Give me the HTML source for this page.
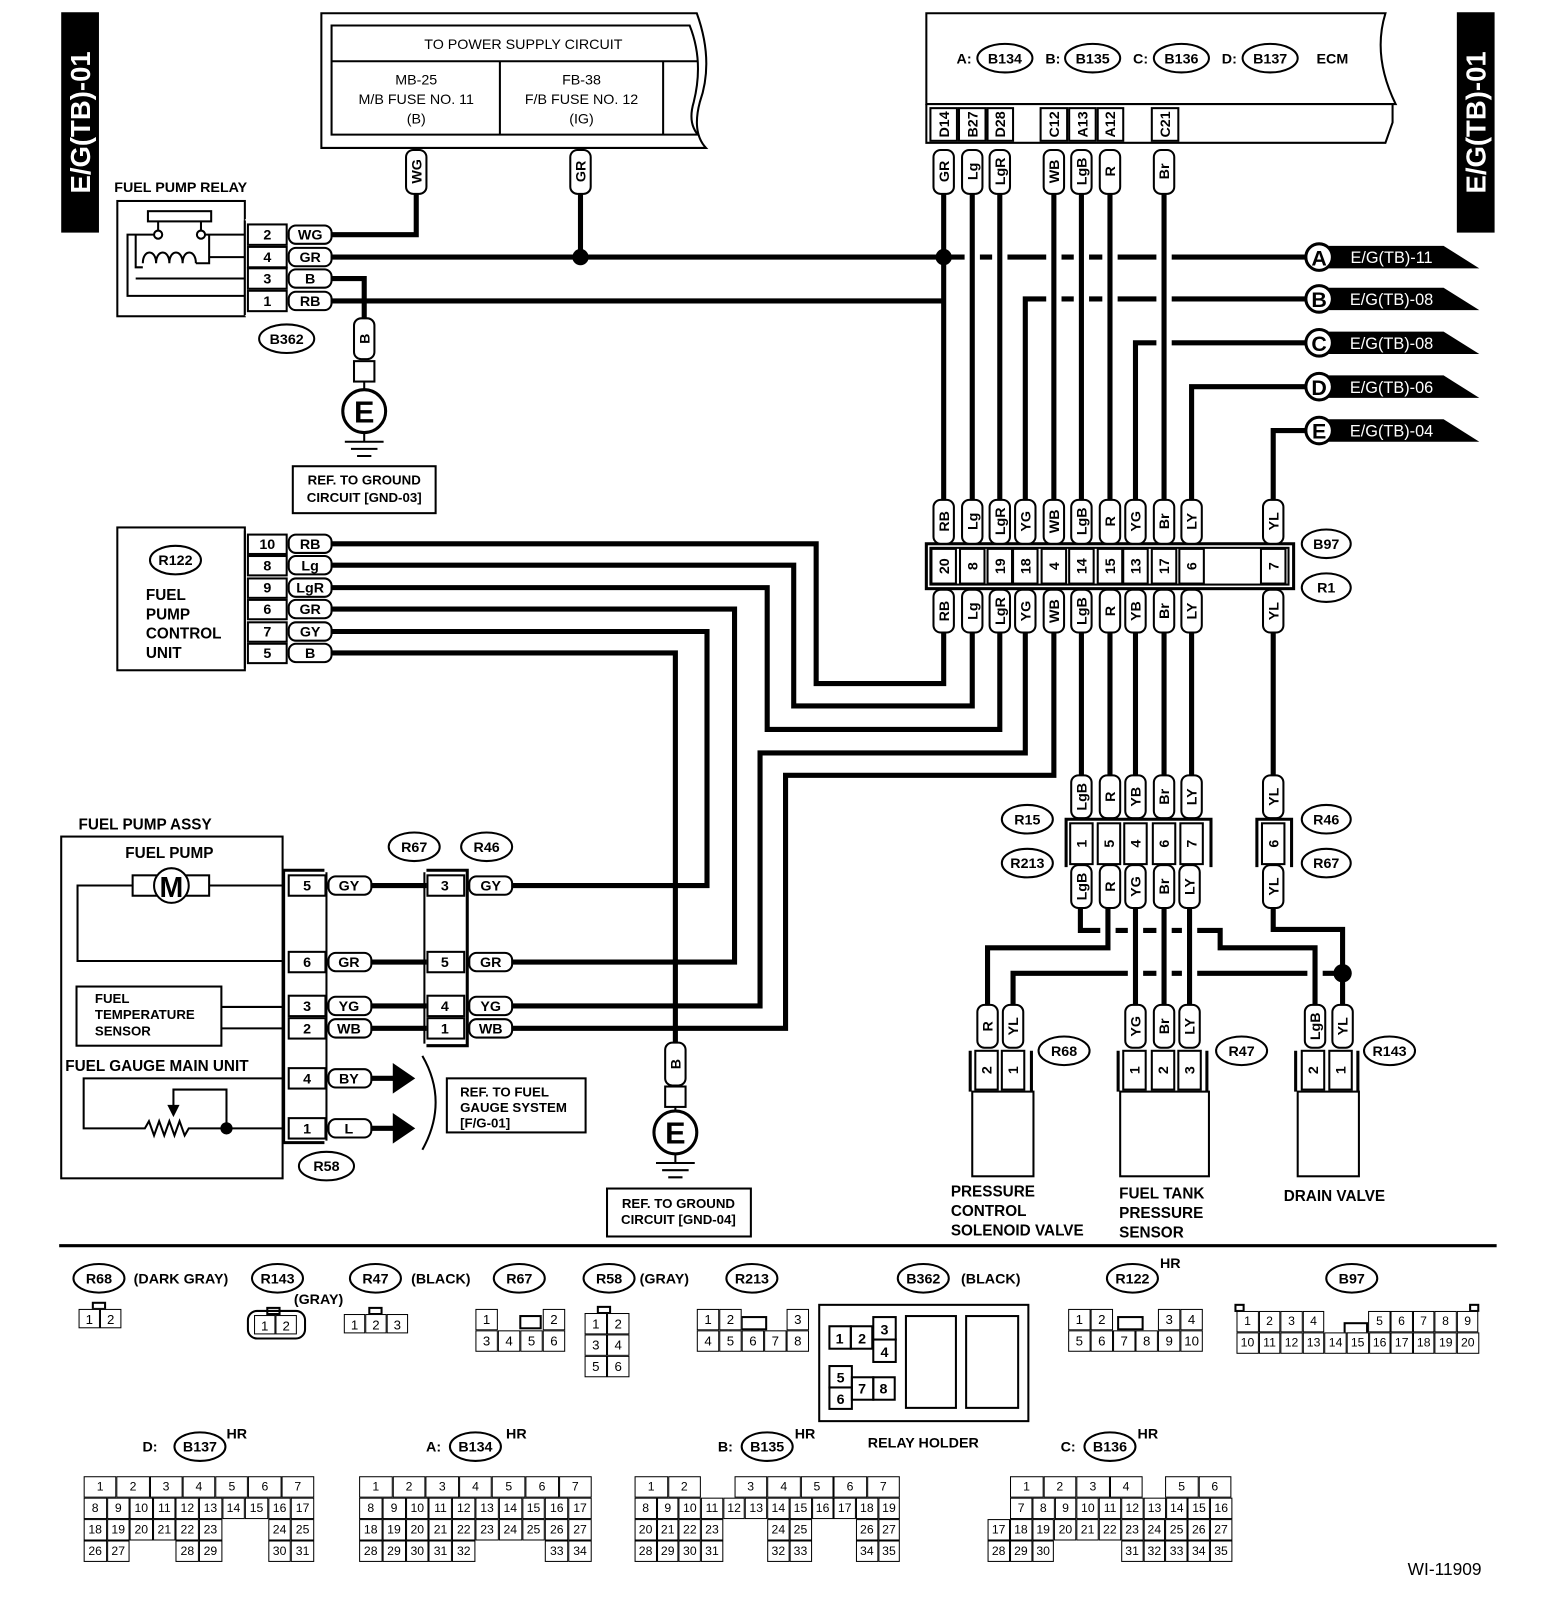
<!DOCTYPE html>
<html><head><meta charset="utf-8">
<style>
html,body{margin:0;padding:0;background:#fff;}
body{width:1568px;height:1598px;overflow:hidden;position:relative;}
#c{position:absolute;left:0;top:0;width:1537px;height:1567px;transform:scale(1.0202);transform-origin:0 0;}
svg{position:absolute;left:0;top:0;}
svg text{font-family:"Liberation Sans",sans-serif;font-weight:bold;font-size:14px;text-anchor:middle;fill:#000;}
.w{fill:none;stroke:#000;stroke-width:5;stroke-linejoin:miter;}
.u{fill:none;stroke:#fff;stroke-width:15;}
.t{fill:#fff;stroke:#000;stroke-width:2;}
.n{fill:none;stroke:#000;stroke-width:2;}
.g{position:absolute;font-family:"Liberation Sans",sans-serif;font-size:13px;}
.r{display:flex;height:21px;}
.r div{box-sizing:border-box;border:1px solid #000;text-align:center;line-height:19px;background:#fff;}
.r div.e{border-color:transparent;background:transparent;}
</style></head><body><div id="c">
<svg width="1537" height="1567" viewBox="0 0 1537 1567">
<!-- side tabs -->
<rect x="60" y="12" width="37" height="216" fill="#000"/>
<text transform="translate(88,120) rotate(-90)" style="fill:#fff;font-size:27px">E/G(TB)-01</text>
<rect x="1428" y="12" width="37" height="216" fill="#000"/>
<text transform="translate(1456,120) rotate(-90)" style="fill:#fff;font-size:27px">E/G(TB)-01</text>

<!-- power supply -->
<path class="n" d="M315,145 V13 H683 Q700,60 686,100 Q678,130 692,145 Z"/>
<path class="n" d="M325,132 V25 H676 Q690,60 680,100 Q674,120 684,132 Z"/>
<line class="n" x1="325" y1="60" x2="684" y2="60"/>
<line class="n" x1="490" y1="60" x2="490" y2="132"/>
<line class="n" x1="650" y1="60" x2="650" y2="132"/>
<text x="513" y="48" style="font-weight:normal">TO POWER SUPPLY CIRCUIT</text>
<text x="408" y="83" style="font-weight:normal">MB-25</text>
<text x="408" y="102" style="font-weight:normal">M/B FUSE NO. 11</text>
<text x="408" y="121" style="font-weight:normal">(B)</text>
<text x="570" y="83" style="font-weight:normal">FB-38</text>
<text x="570" y="102" style="font-weight:normal">F/B FUSE NO. 12</text>
<text x="570" y="121" style="font-weight:normal">(IG)</text>

<!-- ECM -->
<path class="n" d="M908,102 V13 H1358 Q1345,55 1368,102 Z"/>
<path class="n" d="M908,102 V140 H1358 L1365,120 V102"/>
<text x="945" y="62">A:</text><ellipse cx="985" cy="57" rx="27" ry="14" class="n"/><text x="985" y="62">B134</text>
<text x="1032" y="62">B:</text><ellipse cx="1071" cy="57" rx="27" ry="14" class="n"/><text x="1071" y="62">B135</text>
<text x="1118" y="62">C:</text><ellipse cx="1158" cy="57" rx="27" ry="14" class="n"/><text x="1158" y="62">B136</text>
<text x="1205" y="62">D:</text><ellipse cx="1245" cy="57" rx="27" ry="14" class="n"/><text x="1245" y="62">B137</text>
<text x="1306" y="62">ECM</text>
<g class="n">
<rect x="912" y="106" width="26" height="32"/><rect x="940" y="106" width="26" height="32"/><rect x="968" y="106" width="25" height="32"/>
<rect x="1020" y="106" width="26" height="32"/><rect x="1048" y="106" width="26" height="32"/><rect x="1076" y="106" width="25" height="32"/>
<rect x="1129" y="106" width="26" height="32"/></g>
<text transform="translate(930,122) rotate(-90)">D14</text>
<text transform="translate(958,122) rotate(-90)">B27</text>
<text transform="translate(985,122) rotate(-90)">D28</text>
<text transform="translate(1038,122) rotate(-90)">C12</text>
<text transform="translate(1066,122) rotate(-90)">A13</text>
<text transform="translate(1093,122) rotate(-90)">A12</text>
<text transform="translate(1147,122) rotate(-90)">C21</text>

<!-- main horizontal wires -->
<path class="w" d="M408,190 V230 H325"/>
<path class="w" d="M569,190 V252"/>
<path class="w" d="M325,252 H1280"/>
<path class="w" d="M325,273 H357 V312"/>
<path class="w" d="M325,295 H925"/>
<path class="w" d="M925,190 V490"/>
<path class="w" d="M1280,293 H1005 V490"/>
<path class="w" d="M1280,336 H1113 V490"/>
<path class="w" d="M1280,379 H1168 V490"/>
<path class="w" d="M1280,422 H1248 V490"/>
<g>
<path class="u" d="M953,192 V488 M980,192 V488 M1033,192 V488 M1060,192 V488 M1088,192 V488 M1141,192 V488"/>
<path class="w" d="M953,190 V490 M980,190 V490 M1033,190 V490 M1060,190 V490 M1088,190 V490 M1141,190 V490"/>
</g>
<circle cx="569" cy="252" r="8"/><circle cx="925" cy="252" r="8"/>

<!-- off-page flags -->
<g>
<polygon points="1300,241 1415,241 1450,263 1300,263"/><circle cx="1293" cy="252" r="13" class="t" style="stroke-width:3"/><text x="1293" y="260" style="font-size:21px">A</text><text x="1364" y="258" style="fill:#fff;font-size:16px;font-weight:normal">E/G(TB)-11</text>
<polygon points="1300,282 1415,282 1450,304 1300,304"/><circle cx="1293" cy="293" r="13" class="t" style="stroke-width:3"/><text x="1293" y="301" style="font-size:21px">B</text><text x="1364" y="299" style="fill:#fff;font-size:16px;font-weight:normal">E/G(TB)-08</text>
<polygon points="1300,325 1415,325 1450,347 1300,347"/><circle cx="1293" cy="336" r="13" class="t" style="stroke-width:3"/><text x="1293" y="344" style="font-size:21px">C</text><text x="1364" y="342" style="fill:#fff;font-size:16px;font-weight:normal">E/G(TB)-08</text>
<polygon points="1300,368 1415,368 1450,390 1300,390"/><circle cx="1293" cy="379" r="13" class="t" style="stroke-width:3"/><text x="1293" y="387" style="font-size:21px">D</text><text x="1364" y="385" style="fill:#fff;font-size:16px;font-weight:normal">E/G(TB)-06</text>
<polygon points="1300,411 1415,411 1450,433 1300,433"/><circle cx="1293" cy="422" r="13" class="t" style="stroke-width:3"/><text x="1293" y="430" style="font-size:21px">E</text><text x="1364" y="428" style="fill:#fff;font-size:16px;font-weight:normal">E/G(TB)-04</text>
</g>

<!-- relay -->
<text x="112" y="188" style="text-anchor:start">FUEL PUMP RELAY</text>
<rect x="115" y="197" width="125" height="113" class="n"/>
<rect x="145" y="207" width="62" height="10" class="n"/>
<path class="n" d="M155,217 V226 M197,217 V226"/>
<circle cx="155" cy="230" r="4" class="n"/><circle cx="197" cy="230" r="4" class="n"/>
<path class="n" d="M151,230 H125 V290 H240 M201,230 H240"/>
<path class="n" d="M133,230 V262 H140 M140,258 c0,-14 13,-14 13,0 c0,-14 13,-14 13,0 c0,-14 13,-14 13,0 c0,-14 13,-14 13,0 M192,258 H205 V230"/>
<path class="n" d="M205,252 H240 M133,273 H240"/>
<rect x="240" y="215" width="5" height="95" fill="#fff"/>
<g class="n"><rect x="243" y="220" width="38" height="20"/><rect x="243" y="242" width="38" height="20"/><rect x="243" y="263" width="38" height="20"/><rect x="243" y="285" width="38" height="20"/></g>
<line class="n" x1="240" y1="216" x2="240" y2="309"/>
<text x="262" y="235">2</text><text x="262" y="257">4</text><text x="262" y="278">3</text><text x="262" y="300">1</text>
<g class="t"><rect x="283" y="221" width="42" height="18" rx="7"/><rect x="283" y="243" width="42" height="18" rx="7"/><rect x="283" y="264" width="42" height="18" rx="7"/><rect x="283" y="286" width="42" height="18" rx="7"/></g>
<text x="304" y="235">WG</text><text x="304" y="257">GR</text><text x="304" y="278">B</text><text x="304" y="300">RB</text>
<ellipse cx="281" cy="332" rx="27" ry="14" class="n"/><text x="281" y="337">B362</text>

<!-- ground 1 -->
<rect x="347" y="312" width="20" height="40" rx="7" class="t"/><text transform="translate(362,332) rotate(-90)">B</text>
<rect x="347" y="354" width="20" height="20" class="n"/>
<line x1="357" y1="374" x2="357" y2="382" class="n"/>
<circle cx="357" cy="403" r="21" class="n" style="stroke-width:3"/><text x="357" y="414" style="font-size:30px">E</text>
<path class="n" d="M357,424 V433 M338,433 H376 M344,440 H370 M350,447 H364"/>
<rect x="287" y="457" width="140" height="46" class="n"/>
<text x="357" y="475" style="font-size:13px">REF. TO GROUND</text><text x="357" y="492" style="font-size:13px">CIRCUIT [GND-03]</text>

<!-- R122 -->
<rect x="115" y="517" width="125" height="140" class="n"/>
<ellipse cx="172" cy="549" rx="25" ry="14" class="n"/><text x="172" y="554">R122</text>
<text x="143" y="588" style="text-anchor:start;font-size:15px">FUEL</text>
<text x="143" y="607" style="text-anchor:start;font-size:15px">PUMP</text>
<text x="143" y="626" style="text-anchor:start;font-size:15px">CONTROL</text>
<text x="143" y="645" style="text-anchor:start;font-size:15px">UNIT</text>
<line class="n" x1="240" y1="520" x2="240" y2="655"/>
<g class="n"><rect x="243" y="524" width="38" height="19"/><rect x="243" y="545" width="38" height="19"/><rect x="243" y="567" width="38" height="19"/><rect x="243" y="588" width="38" height="19"/><rect x="243" y="610" width="38" height="19"/><rect x="243" y="631" width="38" height="19"/></g>
<text x="262" y="538">10</text><text x="262" y="559">8</text><text x="262" y="581">9</text><text x="262" y="602">6</text><text x="262" y="624">7</text><text x="262" y="645">5</text>

<!-- lower wiring -->
<path class="w" d="M325,533 H800 V670 H925 V620"/>
<path class="w" d="M325,554 H778 V692 H953 V620"/>
<path class="w" d="M325,576 H752 V715 H980 V620"/>
<path class="w" d="M325,597 H720 V943 H502"/>
<path class="w" d="M325,619 H693 V868 H502"/>
<path class="w" d="M325,640 H662 V1022"/>
<path class="w" d="M1005,620 V738 H745 V986 H502"/>
<path class="w" d="M1033,620 V760 H770 V1008 H502"/>
<path class="w" d="M1060,620 V760 M1088,620 V760 M1113,620 V760 M1141,620 V760 M1168,620 V760 M1248,620 V760"/>

<g class="t"><rect x="283" y="524" width="42" height="18" rx="7"/><rect x="283" y="545" width="42" height="18" rx="7"/><rect x="283" y="567" width="42" height="18" rx="7"/><rect x="283" y="588" width="42" height="18" rx="7"/><rect x="283" y="610" width="42" height="18" rx="7"/><rect x="283" y="631" width="42" height="18" rx="7"/></g>
<text x="304" y="538">RB</text><text x="304" y="559">Lg</text><text x="304" y="581">LgR</text><text x="304" y="602">GR</text><text x="304" y="624">GY</text><text x="304" y="645">B</text>

<!-- B97 -->
<rect x="908" y="533" width="360" height="44" class="n" style="stroke-width:3"/>
<rect x="912" y="537" width="351" height="36" fill="#fff" class="n"/>
<g class="n">
<rect x="913" y="538" width="24" height="34"/><rect x="941" y="538" width="24" height="34"/><rect x="968" y="538" width="24" height="34"/><rect x="993" y="538" width="24" height="34"/><rect x="1021" y="538" width="24" height="34"/><rect x="1048" y="538" width="24" height="34"/><rect x="1076" y="538" width="24" height="34"/><rect x="1101" y="538" width="24" height="34"/><rect x="1129" y="538" width="24" height="34"/><rect x="1156" y="538" width="24" height="34"/><rect x="1236" y="538" width="24" height="34"/></g>
<text transform="translate(930,555) rotate(-90)">20</text><text transform="translate(958,555) rotate(-90)">8</text><text transform="translate(985,555) rotate(-90)">19</text><text transform="translate(1010,555) rotate(-90)">18</text><text transform="translate(1038,555) rotate(-90)">4</text><text transform="translate(1065,555) rotate(-90)">14</text><text transform="translate(1093,555) rotate(-90)">15</text><text transform="translate(1118,555) rotate(-90)">13</text><text transform="translate(1146,555) rotate(-90)">17</text><text transform="translate(1173,555) rotate(-90)">6</text><text transform="translate(1253,555) rotate(-90)">7</text>
<ellipse cx="1300" cy="533" rx="24" ry="14" class="n"/><text x="1300" y="538">B97</text>
<ellipse cx="1300" cy="576" rx="24" ry="14" class="n"/><text x="1300" y="581">R1</text>

<!-- vertical pills: ECM -->
<g class="t">
<rect x="915" y="147" width="20" height="43" rx="7"/><rect x="943" y="147" width="20" height="43" rx="7"/><rect x="970" y="147" width="20" height="43" rx="7"/><rect x="1023" y="147" width="20" height="43" rx="7"/><rect x="1050" y="147" width="20" height="43" rx="7"/><rect x="1078" y="147" width="20" height="43" rx="7"/><rect x="1131" y="147" width="20" height="43" rx="7"/>
<rect x="398" y="147" width="20" height="43" rx="7"/><rect x="559" y="147" width="20" height="43" rx="7"/>
</g>
<g style="font-size:13px">
<text transform="translate(930,168) rotate(-90)">GR</text><text transform="translate(958,168) rotate(-90)">Lg</text><text transform="translate(985,168) rotate(-90)">LgR</text><text transform="translate(1038,168) rotate(-90)">WB</text><text transform="translate(1065,168) rotate(-90)">LgB</text><text transform="translate(1093,168) rotate(-90)">R</text><text transform="translate(1146,168) rotate(-90)">Br</text>
<text transform="translate(413,168) rotate(-90)">WG</text><text transform="translate(574,168) rotate(-90)">GR</text>
</g>
<!-- B97 pills -->
<g class="t">
<rect x="915" y="490" width="20" height="43" rx="7"/><rect x="943" y="490" width="20" height="43" rx="7"/><rect x="970" y="490" width="20" height="43" rx="7"/><rect x="995" y="490" width="20" height="43" rx="7"/><rect x="1023" y="490" width="20" height="43" rx="7"/><rect x="1050" y="490" width="20" height="43" rx="7"/><rect x="1078" y="490" width="20" height="43" rx="7"/><rect x="1103" y="490" width="20" height="43" rx="7"/><rect x="1131" y="490" width="20" height="43" rx="7"/><rect x="1158" y="490" width="20" height="43" rx="7"/><rect x="1238" y="490" width="20" height="43" rx="7"/>
<rect x="915" y="578" width="20" height="42" rx="7"/><rect x="943" y="578" width="20" height="42" rx="7"/><rect x="970" y="578" width="20" height="42" rx="7"/><rect x="995" y="578" width="20" height="42" rx="7"/><rect x="1023" y="578" width="20" height="42" rx="7"/><rect x="1050" y="578" width="20" height="42" rx="7"/><rect x="1078" y="578" width="20" height="42" rx="7"/><rect x="1103" y="578" width="20" height="42" rx="7"/><rect x="1131" y="578" width="20" height="42" rx="7"/><rect x="1158" y="578" width="20" height="42" rx="7"/><rect x="1238" y="578" width="20" height="42" rx="7"/>
</g>
<g style="font-size:13px">
<text transform="translate(930,511) rotate(-90)">RB</text><text transform="translate(958,511) rotate(-90)">Lg</text><text transform="translate(985,511) rotate(-90)">LgR</text><text transform="translate(1010,511) rotate(-90)">YG</text><text transform="translate(1038,511) rotate(-90)">WB</text><text transform="translate(1065,511) rotate(-90)">LgB</text><text transform="translate(1093,511) rotate(-90)">R</text><text transform="translate(1118,511) rotate(-90)">YG</text><text transform="translate(1146,511) rotate(-90)">Br</text><text transform="translate(1173,511) rotate(-90)">LY</text><text transform="translate(1253,511) rotate(-90)">YL</text>
<text transform="translate(930,599) rotate(-90)">RB</text><text transform="translate(958,599) rotate(-90)">Lg</text><text transform="translate(985,599) rotate(-90)">LgR</text><text transform="translate(1010,599) rotate(-90)">YG</text><text transform="translate(1038,599) rotate(-90)">WB</text><text transform="translate(1065,599) rotate(-90)">LgB</text><text transform="translate(1093,599) rotate(-90)">R</text><text transform="translate(1118,599) rotate(-90)">YB</text><text transform="translate(1146,599) rotate(-90)">Br</text><text transform="translate(1173,599) rotate(-90)">LY</text><text transform="translate(1253,599) rotate(-90)">YL</text>
</g>

<!-- R15 / R46 -->
<path class="n" d="M1045,850 V803 H1187 V850" style="stroke-width:3"/>
<g class="n"><rect x="1049" y="807" width="22" height="40"/><rect x="1076" y="807" width="22" height="40"/><rect x="1102" y="807" width="22" height="40"/><rect x="1130" y="807" width="22" height="40"/><rect x="1157" y="807" width="22" height="40"/></g>
<text transform="translate(1065,827) rotate(-90)">1</text><text transform="translate(1092,827) rotate(-90)">5</text><text transform="translate(1118,827) rotate(-90)">4</text><text transform="translate(1146,827) rotate(-90)">6</text><text transform="translate(1173,827) rotate(-90)">7</text>
<path class="n" d="M1232,850 V803 H1266 V850" style="stroke-width:3"/>
<rect x="1237" y="807" width="22" height="40" class="n"/><text transform="translate(1253,827) rotate(-90)">6</text>
<ellipse cx="1007" cy="803" rx="25" ry="14" class="n"/><text x="1007" y="808">R15</text>
<ellipse cx="1007" cy="846" rx="25" ry="14" class="n"/><text x="1007" y="851">R213</text>
<ellipse cx="1300" cy="803" rx="24" ry="14" class="n"/><text x="1300" y="808">R46</text>
<ellipse cx="1300" cy="846" rx="24" ry="14" class="n"/><text x="1300" y="851">R67</text>

<!-- wiring to loads -->
<path class="w" d="M1248,890 V911 H1316 V985"/>
<path class="w" d="M1316,954 H993 V985"/>
<circle cx="1316" cy="954" r="9"/>
<path class="u" d="M1196,912 V929 H1289 V983"/>
<path class="w" d="M1059,890 V912 H1196 V929 H1289 V985"/>
<path class="u" d="M1086,892 V929 H968 V983"/>
<path class="w" d="M1086,890 V929 H968 V985"/>
<path class="u" d="M1113,892 V983 M1141,892 V983 M1166,892 V983"/>
<path class="w" d="M1113,890 V985 M1141,890 V985 M1166,890 V985"/>

<g class="t">
<rect x="1050" y="760" width="20" height="42" rx="7"/><rect x="1078" y="760" width="20" height="42" rx="7"/><rect x="1103" y="760" width="20" height="42" rx="7"/><rect x="1131" y="760" width="20" height="42" rx="7"/><rect x="1158" y="760" width="20" height="42" rx="7"/><rect x="1238" y="760" width="20" height="42" rx="7"/>
<rect x="1050" y="848" width="20" height="42" rx="7"/><rect x="1078" y="848" width="20" height="42" rx="7"/><rect x="1103" y="848" width="20" height="42" rx="7"/><rect x="1131" y="848" width="20" height="42" rx="7"/><rect x="1156" y="848" width="20" height="42" rx="7"/><rect x="1238" y="848" width="20" height="42" rx="7"/>
<rect x="958" y="985" width="20" height="42" rx="7"/><rect x="983" y="985" width="20" height="42" rx="7"/>
<rect x="1103" y="985" width="20" height="42" rx="7"/><rect x="1131" y="985" width="20" height="42" rx="7"/><rect x="1156" y="985" width="20" height="42" rx="7"/>
<rect x="1279" y="985" width="20" height="42" rx="7"/><rect x="1306" y="985" width="20" height="42" rx="7"/>
</g>
<g style="font-size:13px">
<text transform="translate(1065,781) rotate(-90)">LgB</text><text transform="translate(1093,781) rotate(-90)">R</text><text transform="translate(1118,781) rotate(-90)">YB</text><text transform="translate(1146,781) rotate(-90)">Br</text><text transform="translate(1173,781) rotate(-90)">LY</text><text transform="translate(1253,781) rotate(-90)">YL</text>
<text transform="translate(1065,869) rotate(-90)">LgB</text><text transform="translate(1093,869) rotate(-90)">R</text><text transform="translate(1118,869) rotate(-90)">YG</text><text transform="translate(1146,869) rotate(-90)">Br</text><text transform="translate(1171,869) rotate(-90)">LY</text><text transform="translate(1253,869) rotate(-90)">YL</text>
<text transform="translate(973,1006) rotate(-90)">R</text><text transform="translate(998,1006) rotate(-90)">YL</text>
<text transform="translate(1118,1006) rotate(-90)">YG</text><text transform="translate(1146,1006) rotate(-90)">Br</text><text transform="translate(1171,1006) rotate(-90)">LY</text>
<text transform="translate(1294,1006) rotate(-90)">LgB</text><text transform="translate(1321,1006) rotate(-90)">YL</text>
</g>

<!-- loads -->
<path class="n" d="M951,1030 V1070 M1011,1030 V1070" style="stroke-width:3"/>
<g class="n"><rect x="956" y="1030" width="22" height="38"/><rect x="982" y="1030" width="22" height="38"/><rect x="953" y="1070" width="60" height="83"/></g>
<text transform="translate(972,1049) rotate(-90)">2</text><text transform="translate(998,1049) rotate(-90)">1</text>
<ellipse cx="1043" cy="1030" rx="25" ry="14" class="n"/><text x="1043" y="1035">R68</text>
<text x="932" y="1173" style="text-anchor:start;font-size:15px">PRESSURE</text>
<text x="932" y="1192" style="text-anchor:start;font-size:15px">CONTROL</text>
<text x="932" y="1211" style="text-anchor:start;font-size:15px">SOLENOID VALVE</text>

<path class="n" d="M1096,1030 V1070 M1183,1030 V1070" style="stroke-width:3"/>
<g class="n"><rect x="1101" y="1030" width="22" height="38"/><rect x="1129" y="1030" width="22" height="38"/><rect x="1155" y="1030" width="22" height="38"/><rect x="1098" y="1070" width="87" height="83"/></g>
<text transform="translate(1117,1049) rotate(-90)">1</text><text transform="translate(1145,1049) rotate(-90)">2</text><text transform="translate(1171,1049) rotate(-90)">3</text>
<ellipse cx="1217" cy="1030" rx="25" ry="14" class="n"/><text x="1217" y="1035">R47</text>
<text x="1097" y="1175" style="text-anchor:start;font-size:15px">FUEL TANK</text>
<text x="1097" y="1194" style="text-anchor:start;font-size:15px">PRESSURE</text>
<text x="1097" y="1213" style="text-anchor:start;font-size:15px">SENSOR</text>

<path class="n" d="M1270,1030 V1070 M1331,1030 V1070" style="stroke-width:3"/>
<g class="n"><rect x="1276" y="1030" width="22" height="38"/><rect x="1303" y="1030" width="22" height="38"/><rect x="1272" y="1070" width="60" height="83"/></g>
<text transform="translate(1292,1049) rotate(-90)">2</text><text transform="translate(1319,1049) rotate(-90)">1</text>
<ellipse cx="1362" cy="1030" rx="25" ry="14" class="n"/><text x="1362" y="1035">R143</text>
<text x="1308" y="1177" style="font-size:15px">DRAIN VALVE</text>

<!-- fuel pump assy -->
<text x="77" y="813" style="text-anchor:start;font-size:15px">FUEL PUMP ASSY</text>
<rect x="60" y="820" width="217" height="335" class="n"/>
<text x="166" y="841" style="font-size:15px">FUEL PUMP</text>
<path class="n" d="M130,868 H76 V942 H277 M205,868 H277"/>
<rect x="130" y="858" width="75" height="20" class="n"/>
<circle cx="168" cy="868" r="17" class="t"/><text x="168" y="879" style="font-size:28px">M</text>
<rect x="75" y="967" width="142" height="58" class="n"/>
<text x="93" y="983" style="text-anchor:start;font-size:13px">FUEL</text>
<text x="93" y="999" style="text-anchor:start;font-size:13px">TEMPERATURE</text>
<text x="93" y="1015" style="text-anchor:start;font-size:13px">SENSOR</text>
<path class="n" d="M217,987 H277 M217,1008 H277"/>
<text x="64" y="1050" style="text-anchor:start;font-size:15px">FUEL GAUGE MAIN UNIT</text>
<path class="n" d="M277,1057 H82 V1106 H142 l4,-7 5,14 5,-14 5,14 5,-14 5,14 5,-14 5,14 4,-7 H277 M222,1106 V1068 H170 V1085"/>
<polygon points="164,1083 176,1083 170,1095"/>
<circle cx="222" cy="1106" r="6"/>

<!-- R58 connector -->
<path class="n" d="M318,853 H278 V1120 H318" style="stroke-width:3"/>
<line class="n" x1="320" y1="855" x2="320" y2="1118"/>
<g class="n"><rect x="283" y="858" width="36" height="20"/><rect x="283" y="933" width="36" height="20"/><rect x="283" y="976" width="36" height="20"/><rect x="283" y="998" width="36" height="20"/><rect x="283" y="1047" width="36" height="20"/><rect x="283" y="1096" width="36" height="20"/></g>
<text x="301" y="873">5</text><text x="301" y="948">6</text><text x="301" y="991">3</text><text x="301" y="1013">2</text><text x="301" y="1062">4</text><text x="301" y="1111">1</text>
<path class="w" d="M362,868 H418 M362,943 H418 M362,986 H418 M362,1008 H418 M362,1057 H390 M362,1106 H390"/>
<polygon points="385,1042 407,1057 385,1072"/><polygon points="385,1091 407,1106 385,1121"/>
<path class="n" d="M414,1035 Q440,1080 414,1127"/>
<rect x="438" y="1057" width="136" height="53" class="n"/>
<text x="451" y="1075" style="text-anchor:start;font-size:13px">REF. TO FUEL</text>
<text x="451" y="1090" style="text-anchor:start;font-size:13px">GAUGE SYSTEM</text>
<text x="451" y="1105" style="text-anchor:start;font-size:13px">[F/G-01]</text>
<ellipse cx="320" cy="1143" rx="27" ry="14" class="n"/><text x="320" y="1148">R58</text>
<g class="t"><rect x="322" y="859" width="42" height="18" rx="7"/><rect x="322" y="934" width="42" height="18" rx="7"/><rect x="322" y="977" width="42" height="18" rx="7"/><rect x="322" y="999" width="42" height="18" rx="7"/><rect x="322" y="1048" width="42" height="18" rx="7"/><rect x="322" y="1097" width="42" height="18" rx="7"/></g>
<text x="342" y="873">GY</text><text x="342" y="948">GR</text><text x="342" y="991">YG</text><text x="342" y="1013">WB</text><text x="342" y="1062">BY</text><text x="342" y="1111">L</text>

<!-- R67/R46 -->
<path class="n" d="M418,853 H458 V1025 H418" style="stroke-width:3"/>
<line class="n" x1="416" y1="855" x2="416" y2="1023"/>
<g class="n"><rect x="419" y="858" width="36" height="20"/><rect x="419" y="933" width="36" height="20"/><rect x="419" y="976" width="36" height="20"/><rect x="419" y="998" width="36" height="20"/></g>
<text x="436" y="873">3</text><text x="436" y="948">5</text><text x="436" y="991">4</text><text x="436" y="1013">1</text>
<g class="t"><rect x="460" y="859" width="42" height="18" rx="7"/><rect x="460" y="934" width="42" height="18" rx="7"/><rect x="460" y="977" width="42" height="18" rx="7"/><rect x="460" y="999" width="42" height="18" rx="7"/></g>
<text x="481" y="873">GY</text><text x="481" y="948">GR</text><text x="481" y="991">YG</text><text x="481" y="1013">WB</text>
<ellipse cx="406" cy="830" rx="25" ry="14" class="n"/><text x="406" y="835">R67</text>
<ellipse cx="477" cy="830" rx="25" ry="14" class="n"/><text x="477" y="835">R46</text>

<!-- ground 2 -->
<rect x="652" y="1022" width="20" height="42" rx="7" class="t"/><text transform="translate(667,1043) rotate(-90)">B</text>
<rect x="652" y="1065" width="20" height="20" class="n"/>
<line x1="662" y1="1085" x2="662" y2="1090" class="n"/>
<circle cx="662" cy="1110" r="21" class="n" style="stroke-width:3"/><text x="662" y="1121" style="font-size:30px">E</text>
<path class="n" d="M662,1131 V1140 M643,1140 H681 M649,1147 H675 M655,1154 H669"/>
<rect x="595" y="1165" width="141" height="47" class="n"/>
<text x="665" y="1184" style="font-size:13px">REF. TO GROUND</text><text x="665" y="1200" style="font-size:13px">CIRCUIT [GND-04]</text>

<line x1="58" y1="1221" x2="1467" y2="1221" stroke="#000" stroke-width="3"/>

<!-- legend labels -->
<g style="font-size:15px">
<ellipse cx="97" cy="1253" rx="25" ry="14" class="n"/><text x="97" y="1258">R68</text><text x="131" y="1258" style="text-anchor:start">(DARK GRAY)</text>
<ellipse cx="272" cy="1253" rx="25" ry="14" class="n"/><text x="272" y="1258">R143</text><text x="288" y="1278" style="text-anchor:start">(GRAY)</text>
<ellipse cx="368" cy="1253" rx="25" ry="14" class="n"/><text x="368" y="1258">R47</text><text x="403" y="1258" style="text-anchor:start">(BLACK)</text>
<ellipse cx="509" cy="1253" rx="25" ry="14" class="n"/><text x="509" y="1258">R67</text>
<ellipse cx="597" cy="1253" rx="25" ry="14" class="n"/><text x="597" y="1258">R58</text><text x="627" y="1258" style="text-anchor:start">(GRAY)</text>
<ellipse cx="737" cy="1253" rx="25" ry="14" class="n"/><text x="737" y="1258">R213</text>
<ellipse cx="905" cy="1253" rx="25" ry="14" class="n"/><text x="905" y="1258">B362</text><text x="942" y="1258" style="text-anchor:start">(BLACK)</text>
<ellipse cx="1110" cy="1253" rx="25" ry="14" class="n"/><text x="1110" y="1258">R122</text><text x="1137" y="1243" style="text-anchor:start">HR</text>
<ellipse cx="1325" cy="1253" rx="25" ry="14" class="n"/><text x="1325" y="1258">B97</text>
<text x="147" y="1423">D:</text><ellipse cx="196" cy="1418" rx="25" ry="14" class="n"/><text x="196" y="1423">B137</text><text x="222" y="1410" style="text-anchor:start">HR</text>
<text x="425" y="1423">A:</text><ellipse cx="466" cy="1418" rx="25" ry="14" class="n"/><text x="466" y="1423">B134</text><text x="496" y="1410" style="text-anchor:start">HR</text>
<text x="711" y="1423">B:</text><ellipse cx="752" cy="1418" rx="25" ry="14" class="n"/><text x="752" y="1423">B135</text><text x="779" y="1410" style="text-anchor:start">HR</text>
<text x="1047" y="1423">C:</text><ellipse cx="1088" cy="1418" rx="25" ry="14" class="n"/><text x="1088" y="1423">B136</text><text x="1115" y="1410" style="text-anchor:start">HR</text>
<text x="905" y="1419">RELAY HOLDER</text>
<text x="1416" y="1544" style="font-weight:normal;font-size:17px">WI-11909</text>
</g>
<!-- small tabs -->
<g class="n">
<rect x="91" y="1277" width="12" height="6"/><rect x="262" y="1282" width="12" height="6"/><rect x="362" y="1282" width="12" height="6"/>
<rect x="510" y="1290" width="20" height="12"/><rect x="586" y="1281" width="12" height="6"/><rect x="727" y="1291" width="24" height="12"/>
<rect x="1096" y="1291" width="24" height="12"/><rect x="1318" y="1297" width="22" height="10"/>
<rect x="1211" y="1279" width="8" height="6"/><rect x="1441" y="1279" width="8" height="6"/>
<rect x="243" y="1285" width="56" height="27" rx="9"/>
</g>
<!-- B362 relay holder -->
<rect x="803" y="1279" width="205" height="114" class="n"/>
<rect x="888" y="1290" width="49" height="90" class="n"/><rect x="947" y="1290" width="51" height="90" class="n"/>
<g class="n"><rect x="813" y="1300" width="21" height="22"/><rect x="834" y="1300" width="21" height="22"/><rect x="856" y="1291" width="22" height="22"/><rect x="856" y="1313" width="22" height="22"/><rect x="813" y="1339" width="22" height="21"/><rect x="813" y="1360" width="22" height="21"/><rect x="835" y="1350" width="21" height="22"/><rect x="856" y="1350" width="21" height="22"/></g>
<g style="font-weight:normal;font-size:15px"><text x="823" y="1317">1</text><text x="845" y="1317">2</text><text x="867" y="1308">3</text><text x="867" y="1330">4</text><text x="824" y="1355">5</text><text x="824" y="1376">6</text><text x="845" y="1366">7</text><text x="866" y="1366">8</text></g>
</svg>

<!-- legend grids -->
<div class="g" style="left:77px;top:1283px"><div class="r" style="height:19px"><div style="width:21px">1</div><div style="width:21px">2</div></div></div>
<div class="g" style="left:249px;top:1289px"><div class="r" style="height:19px"><div style="width:21px">1</div><div style="width:21px">2</div></div></div>
<div class="g" style="left:337px;top:1288px"><div class="r" style="height:19px"><div style="width:21px">1</div><div style="width:21px">2</div><div style="width:21px">3</div></div></div>
<div class="g" style="left:466px;top:1283px"><div class="r"><div style="width:22px">1</div><div class="e" style="width:22px"></div><div class="e" style="width:22px"></div><div style="width:22px">2</div></div><div class="r"><div style="width:22px">3</div><div style="width:22px">4</div><div style="width:22px">5</div><div style="width:22px">6</div></div></div>
<div class="g" style="left:573px;top:1287px"><div class="r"><div style="width:22px">1</div><div style="width:22px">2</div></div><div class="r"><div style="width:22px">3</div><div style="width:22px">4</div></div><div class="r"><div style="width:22px">5</div><div style="width:22px">6</div></div></div>
<div class="g" style="left:683px;top:1283px"><div class="r"><div style="width:22px">1</div><div style="width:22px">2</div><div class="e" style="width:22px"></div><div class="e" style="width:22px"></div><div style="width:22px">3</div></div><div class="r"><div style="width:22px">4</div><div style="width:22px">5</div><div style="width:22px">6</div><div style="width:22px">7</div><div style="width:22px">8</div></div></div>
<div class="g" style="left:1047px;top:1283px"><div class="r"><div style="width:22px">1</div><div style="width:22px">2</div><div class="e" style="width:22px"></div><div class="e" style="width:22px"></div><div style="width:22px">3</div><div style="width:22px">4</div></div><div class="r"><div style="width:22px">5</div><div style="width:22px">6</div><div style="width:22px">7</div><div style="width:22px">8</div><div style="width:22px">9</div><div style="width:22px">10</div></div></div>
<div class="g" style="left:1212px;top:1285px;font-size:12px"><div class="r"><div style="width:21.6px">1</div><div style="width:21.6px">2</div><div style="width:21.6px">3</div><div style="width:21.6px">4</div><div class="e" style="width:43px"></div><div style="width:21.6px">5</div><div style="width:21.6px">6</div><div style="width:21.6px">7</div><div style="width:21.6px">8</div><div style="width:21.6px">9</div></div><div class="r"><div style="width:21.6px">10</div><div style="width:21.6px">11</div><div style="width:21.6px">12</div><div style="width:21.6px">13</div><div style="width:21.6px">14</div><div style="width:21.6px">15</div><div style="width:21.6px">16</div><div style="width:21.6px">17</div><div style="width:21.6px">18</div><div style="width:21.6px">19</div><div style="width:21.6px">20</div></div></div>

<!-- B137 -->
<div class="g" style="left:82px;top:1447px;font-size:12px">
<div class="r"><div style="width:32.3px">1</div><div style="width:32.3px">2</div><div style="width:32.3px">3</div><div style="width:32.3px">4</div><div style="width:32.3px">5</div><div style="width:32.3px">6</div><div style="width:32.3px">7</div></div>
<div class="r"><div style="width:22.6px">8</div><div style="width:22.6px">9</div><div style="width:22.6px">10</div><div style="width:22.6px">11</div><div style="width:22.6px">12</div><div style="width:22.6px">13</div><div style="width:22.6px">14</div><div style="width:22.6px">15</div><div style="width:22.6px">16</div><div style="width:22.6px">17</div></div>
<div class="r"><div style="width:22.6px">18</div><div style="width:22.6px">19</div><div style="width:22.6px">20</div><div style="width:22.6px">21</div><div style="width:22.6px">22</div><div style="width:22.6px">23</div><div class="e" style="width:22.6px"></div><div class="e" style="width:22.6px"></div><div style="width:22.6px">24</div><div style="width:22.6px">25</div></div>
<div class="r"><div style="width:22.6px">26</div><div style="width:22.6px">27</div><div class="e" style="width:22.6px"></div><div class="e" style="width:22.6px"></div><div style="width:22.6px">28</div><div style="width:22.6px">29</div><div class="e" style="width:22.6px"></div><div class="e" style="width:22.6px"></div><div style="width:22.6px">30</div><div style="width:22.6px">31</div></div>
</div>
<!-- B134 -->
<div class="g" style="left:352px;top:1447px;font-size:12px">
<div class="r"><div style="width:32.6px">1</div><div style="width:32.6px">2</div><div style="width:32.6px">3</div><div style="width:32.6px">4</div><div style="width:32.6px">5</div><div style="width:32.6px">6</div><div style="width:32.6px">7</div></div>
<div class="r"><div style="width:22.8px">8</div><div style="width:22.8px">9</div><div style="width:22.8px">10</div><div style="width:22.8px">11</div><div style="width:22.8px">12</div><div style="width:22.8px">13</div><div style="width:22.8px">14</div><div style="width:22.8px">15</div><div style="width:22.8px">16</div><div style="width:22.8px">17</div></div>
<div class="r"><div style="width:22.8px">18</div><div style="width:22.8px">19</div><div style="width:22.8px">20</div><div style="width:22.8px">21</div><div style="width:22.8px">22</div><div style="width:22.8px">23</div><div style="width:22.8px">24</div><div style="width:22.8px">25</div><div style="width:22.8px">26</div><div style="width:22.8px">27</div></div>
<div class="r"><div style="width:22.8px">28</div><div style="width:22.8px">29</div><div style="width:22.8px">30</div><div style="width:22.8px">31</div><div style="width:22.8px">32</div><div class="e" style="width:22.8px"></div><div class="e" style="width:22.8px"></div><div class="e" style="width:22.8px"></div><div style="width:22.8px">33</div><div style="width:22.8px">34</div></div>
</div>
<!-- B135 -->
<div class="g" style="left:622px;top:1447px;font-size:12px">
<div class="r"><div style="width:32.5px">1</div><div style="width:32.5px">2</div><div class="e" style="width:32.5px"></div><div style="width:32.5px">3</div><div style="width:32.5px">4</div><div style="width:32.5px">5</div><div style="width:32.5px">6</div><div style="width:32.5px">7</div></div>
<div class="r"><div style="width:21.7px">8</div><div style="width:21.7px">9</div><div style="width:21.7px">10</div><div style="width:21.7px">11</div><div style="width:21.7px">12</div><div style="width:21.7px">13</div><div style="width:21.7px">14</div><div style="width:21.7px">15</div><div style="width:21.7px">16</div><div style="width:21.7px">17</div><div style="width:21.7px">18</div><div style="width:21.7px">19</div></div>
<div class="r"><div style="width:21.7px">20</div><div style="width:21.7px">21</div><div style="width:21.7px">22</div><div style="width:21.7px">23</div><div class="e" style="width:21.7px"></div><div class="e" style="width:21.7px"></div><div style="width:21.7px">24</div><div style="width:21.7px">25</div><div class="e" style="width:21.7px"></div><div class="e" style="width:21.7px"></div><div style="width:21.7px">26</div><div style="width:21.7px">27</div></div>
<div class="r"><div style="width:21.7px">28</div><div style="width:21.7px">29</div><div style="width:21.7px">30</div><div style="width:21.7px">31</div><div class="e" style="width:21.7px"></div><div class="e" style="width:21.7px"></div><div style="width:21.7px">32</div><div style="width:21.7px">33</div><div class="e" style="width:21.7px"></div><div class="e" style="width:21.7px"></div><div style="width:21.7px">34</div><div style="width:21.7px">35</div></div>
</div>
<!-- B136 -->
<div class="g" style="left:990px;top:1447px;font-size:12px">
<div class="r"><div style="width:32.5px">1</div><div style="width:32.5px">2</div><div style="width:32.5px">3</div><div style="width:32.5px">4</div><div class="e" style="width:22px"></div><div style="width:32.5px">5</div><div style="width:32.5px">6</div></div>
<div class="r"><div style="width:21.8px">7</div><div style="width:21.8px">8</div><div style="width:21.8px">9</div><div style="width:21.8px">10</div><div style="width:21.8px">11</div><div style="width:21.8px">12</div><div style="width:21.8px">13</div><div style="width:21.8px">14</div><div style="width:21.8px">15</div><div style="width:21.8px">16</div></div>
</div>
<div class="g" style="left:968px;top:1489px;font-size:12px">
<div class="r"><div style="width:21.8px">17</div><div style="width:21.8px">18</div><div style="width:21.8px">19</div><div style="width:21.8px">20</div><div style="width:21.8px">21</div><div style="width:21.8px">22</div><div style="width:21.8px">23</div><div style="width:21.8px">24</div><div style="width:21.8px">25</div><div style="width:21.8px">26</div><div style="width:21.8px">27</div></div>
<div class="r"><div style="width:21.8px">28</div><div style="width:21.8px">29</div><div style="width:21.8px">30</div><div class="e" style="width:21.8px"></div><div class="e" style="width:21.8px"></div><div class="e" style="width:21.8px"></div><div style="width:21.8px">31</div><div style="width:21.8px">32</div><div style="width:21.8px">33</div><div style="width:21.8px">34</div><div style="width:21.8px">35</div></div>
</div>
</div></body></html>
